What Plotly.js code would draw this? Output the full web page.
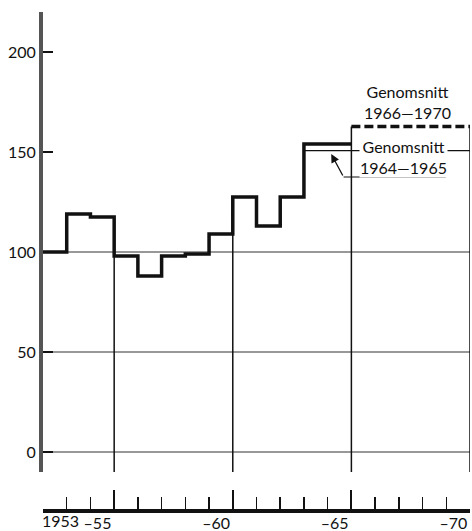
<!DOCTYPE html>
<html>
<head>
<meta charset="utf-8">
<script src="https://cdn.plot.ly/plotly-3.0.1.min.js"></script>
<style>
  html, body { margin: 0; padding: 0; background: #fff; }
  #chart { width: 472px; height: 531px; }
</style>
</head>
<body>
<div id="chart"></div>
<script>
// index values per year (1953 = 100)
const years = [1953, 1954, 1955, 1956, 1957, 1958, 1959, 1960, 1961, 1962, 1963, 1964, 1965];
const values = [100, 119, 117.5, 98, 88, 98, 99, 109, 127.5, 113, 127.5, 154, 154];

// averages
const avg6465 = 150.7;          // Genomsnitt 1964-1965
const avg6670 = 162.7;          // Genomsnitt 1966-1970
const avgYears = [1966, 1970];

const gridVals = [0, 50, 100];
const markYears = [1955, 1960, 1965, 1970];
const yTicks = [0, 50, 100, 150, 200];
const xTickVals = [1952, 1955, 1960, 1965, 1970];
const xTickText = ['', '–55', '–60', '–65', '–70'];

const ink = '#111';
const fontFam = 'Lato, "Open Sans", sans-serif';

// each year Y is drawn over [Y-1, Y]
let stepX = years.map(y => y - 1);
stepX.push(years[years.length - 1]);
let stepY = values.slice();
stepY.push(values[values.length - 1]);

function valueAt(yr) {
  let i = years.indexOf(yr);
  if (i >= 0) return Math.max(values[i], i + 1 < values.length ? values[i + 1] : avg6670);
  return avg6670;
}

let traces = [];

// vertical lines every fifth year
markYears.forEach(yr => {
  traces.push({
    x: [yr, yr], y: [-10, valueAt(yr)],
    mode: 'lines', type: 'scatter',
    line: {color: ink, width: 1.5},
    hoverinfo: 'skip', showlegend: false
  });
});

// thin average line 1964-1965 (runs on under the label)
traces.push({
  x: [years[years.length - 2] - 1, avgYears[1]], y: [avg6465, avg6465],
  mode: 'lines', type: 'scatter',
  line: {color: ink, width: 1.2},
  hoverinfo: 'skip', showlegend: false
});

// dashed average 1966-1970
traces.push({
  x: [avgYears[0] - 1, avgYears[1]], y: [avg6670, avg6670],
  mode: 'lines', type: 'scatter',
  line: {color: ink, width: 3.5, dash: '9px,4px'},
  hoverinfo: 'skip', showlegend: false
});

// the yearly steps
traces.push({
  x: stepX, y: stepY,
  mode: 'lines', type: 'scatter',
  line: {color: ink, width: 3.5, shape: 'hv'},
  showlegend: false
});

let shapes = gridVals.map(v => ({
  type: 'line', xref: 'x', yref: 'y',
  x0: 1952, x1: 1970, y0: v, y1: v,
  line: {color: '#333', width: 1.2},
  layer: 'below'
}));
// underline of the 1964-1965 label
shapes.push({
  type: 'line', xref: 'x', yref: 'y',
  x0: 1964.67, x1: 1968.98, y0: 137.5, y1: 137.5,
  line: {color: ink, width: 1.2}
});

let layout = {
  width: 472, height: 531,
  margin: {l: 43, r: 2, t: 12, b: 21},
  paper_bgcolor: '#fff', plot_bgcolor: '#fff',
  font: {family: fontFam, size: 16, color: ink},
  xaxis: {
    range: [1952, 1970],
    anchor: 'free', position: 0,
    showline: true, linewidth: 3.5, linecolor: ink,
    showgrid: false, zeroline: false,
    tickmode: 'array', tickvals: xTickVals, ticktext: xTickText,
    ticks: 'inside', ticklen: 19, tickwidth: 2, tickcolor: ink,
    ticklabelposition: 'outside left',
    ticklabelstandoff: -3,
    minor: {dtick: 1, tick0: 1952, ticks: 'inside', ticklen: 12, tickwidth: 1.5, tickcolor: ink, showgrid: false},
    tickfont: {family: fontFam, size: 16, color: ink}
  },
  yaxis: {
    domain: [0.0763, 1],
    range: [-10, 220],
    showline: true, linewidth: 4, linecolor: '#555',
    showgrid: false, zeroline: false,
    tickmode: 'array', tickvals: yTicks,
    ticks: 'inside', ticklen: 10, tickwidth: 2, tickcolor: ink,
    tickfont: {family: fontFam, size: 16, color: ink}
  },
  shapes: shapes,
  annotations: [
    {
      x: 1952, xref: 'x', y: 0, yref: 'paper',
      xanchor: 'left', yanchor: 'top', yshift: 1, xshift: -3,
      text: '1953', showarrow: false,
      font: {family: fontFam, size: 16, color: ink}
    },
    {
      x: 1967.38, xref: 'x', y: 175, yref: 'y',
      xanchor: 'center', yanchor: 'middle',
      text: 'Genomsnitt<br>1966—1970', showarrow: false, align: 'center',
      font: {family: fontFam, size: 16, color: ink}
    },
    {
      x: 1967.2, xref: 'x', y: 147.5, yref: 'y',
      xanchor: 'center', yanchor: 'middle',
      text: 'Genomsnitt<br>1964—1965', showarrow: false, align: 'center',
      bgcolor: '#fff', borderpad: 0,
      font: {family: fontFam, size: 16, color: ink}
    },
    {
      x: 1964.15, y: 149, xref: 'x', yref: 'y',
      ax: 1964.67, ay: 137.5, axref: 'x', ayref: 'y',
      text: '', showarrow: true,
      arrowhead: 2, arrowsize: 1.3, arrowwidth: 1.3, arrowcolor: ink
    }
  ]
};

Plotly.newPlot('chart', traces, layout, {displayModeBar: false, staticPlot: true});
</script>
</body>
</html>
